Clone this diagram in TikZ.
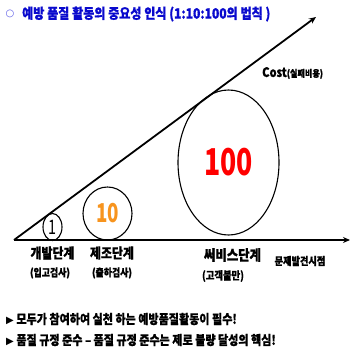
\documentclass[tikz,border=0pt]{standalone}
\usepackage{fontspec}
\usetikzlibrary{shapes.geometric,arrows.meta}
\newfontfamily\kr{Noto Sans CJK KR}[FakeStretch=0.85,FakeBold=0.8]
\newfontfamily\numf{Noto Sans CJK KR}[FakeStretch=0.72]
\newfontfamily\symf{DejaVu Sans}
\definecolor{titleblue}{RGB}{10,10,205}
\definecolor{circblue}{RGB}{90,90,230}
\definecolor{tenorange}{RGB}{247,148,30}
\definecolor{hundredred}{RGB}{255,0,0}
\begin{document}
\begin{tikzpicture}[x=1pt,y=-1pt,
  axisline/.style={line width=1.8pt,-{Stealth[length=7pt,width=6pt]}},
  bubble/.style={draw,ellipse,line width=1.1pt,inner sep=0pt},
  lbl/.style={font=\kr\bfseries\fontsize{14}{14}\selectfont,inner sep=0pt},
  sublbl/.style={font=\kr\bfseries\fontsize{10.5}{11}\selectfont,inner sep=0pt},
  bullet/.style={font=\kr\bfseries\fontsize{13}{13}\selectfont,inner sep=0pt,anchor=west},
  ]
\useasboundingbox (0,0) rectangle (350,353);
% title
\node[inner sep=0pt,font=\symf\fontsize{10}{10}\selectfont,text=circblue] (tmark) at (10,14) {○};
\node[inner sep=0pt,anchor=west,font=\kr\bfseries\fontsize{14.2}{14}\selectfont,text=titleblue] (title) at (22,14) {예방 품질 활동의 중요성 인식 (1:10:100의 법칙 )};
% axes
\coordinate (o) at (14,240);
\coordinate (tip) at (316,17);
\coordinate (xend) at (350,240);
\draw[axisline] (o) -- (tip);
\draw[axisline] (o) -- (xend);
% bubbles
\node[bubble,minimum width=19pt,minimum height=27pt,font=\numf\fontsize{20}{20}\selectfont] (b1) at (52.5,227) {1};
\node[bubble,minimum width=49pt,minimum height=53pt,font=\numf\bfseries\fontsize{26}{26}\selectfont,text=tenorange] (b10) at (107.5,213.5) {10};
\node[bubble,minimum width=101pt,minimum height=145pt,font=\numf\bfseries\fontsize{37}{37}\selectfont,text=hundredred] (b100) at (228.5,162.5) {100};
% cost label
\node[inner sep=0pt,anchor=west] (cost) at (262,73) {\kr\bfseries\fontsize{13}{13}\selectfont Cost\fontsize{9.5}{9.5}\selectfont(실패비용)};
% stage labels
\node[lbl] (s1) at (52.5,253) {개발단계};
\node[sublbl] (s1b) at (50,273) {(입고검사)};
\node[lbl] (s2) at (112,253) {제조단계};
\node[sublbl] (s2b) at (112,273) {(출하검사)};
\node[lbl,font=\kr\bfseries\fontsize{14.6}{15}\selectfont] (s3) at (232.5,255) {써비스단계};
\node[sublbl,font=\kr\bfseries\fontsize{11}{11}\selectfont] (s3b) at (223,276) {(고객불만)};
\node[lbl,font=\kr\bfseries\fontsize{10.8}{11}\selectfont] (s4) at (300,261) {문제발견시점};
% bullets
\node[bullet] (l1) at (6,319) {{\symf\fontsize{10}{10}\selectfont ▶} 모두가 참여하여 실천 하는 예방품질활동이 필수!};
\node[bullet] (l2) at (6,340) {{\symf\fontsize{10}{10}\selectfont ▶} 품질 규정 준수 – 품질 규정 준수는 제로 불량 달성의 핵심!};
\end{tikzpicture}
\end{document}
